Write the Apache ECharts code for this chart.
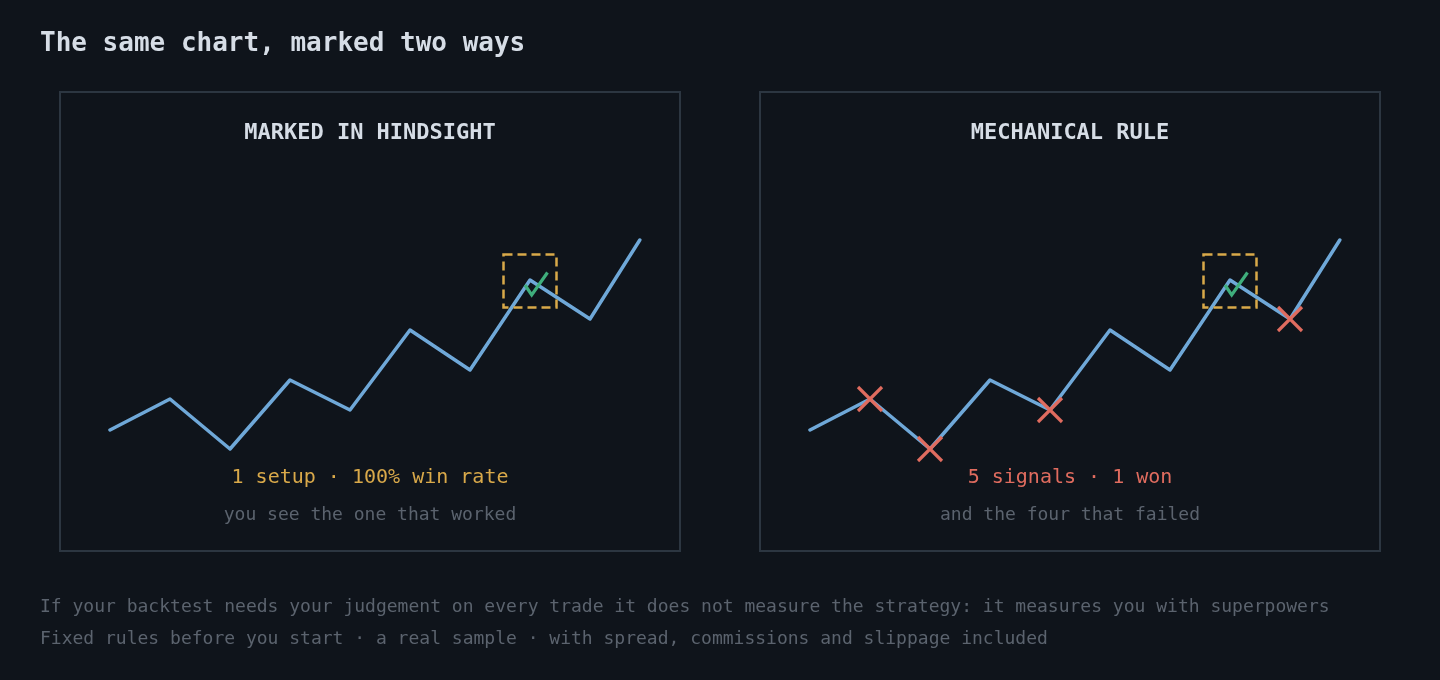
<!DOCTYPE html>
<html><head><meta charset="utf-8">
<script src="https://cdn.jsdelivr.net/npm/echarts@6/dist/echarts.min.js"></script>
<style>html,body{margin:0;padding:0;background:#0f141b;}#c{width:1440px;height:680px;}</style>
</head><body><div id="c"></div>
<script>
const steps = [0, 1, 2, 3, 4, 5, 6, 7, 8, 8.83];
const prices = [100, 106.2, 96.2, 110, 104, 120, 112, 130, 122.2, 138];
const hindsightWinIdx = [7];
const ruleWinIdx = [7];
const ruleFailIdx = [1, 2, 4, 8];
const titleText = 'The same chart, marked two ways';
const panelTitles = ['MARKED IN HINDSIGHT', 'MECHANICAL RULE'];
const panelStats = ['1 setup · 100% win rate', '5 signals · 1 won'];
const panelNotes = ['you see the one that worked', 'and the four that failed'];
const footLines = [
  'If your backtest needs your judgement on every trade it does not measure the strategy: it measures you with superpowers',
  'Fixed rules before you start · a real sample · with spread, commissions and slippage included'
];

const BG = '#0f141b', BORDER = '#2c3641', LINE = '#6fa8d8', GOLD = '#d9a94a', RED = '#e06c5f', GREEN = '#3fae7c';
const TXT = '#d6dde6', MUTED = '#5b636e';
const FONT = '"DejaVu Sans Mono", monospace';

function pts(idx){ return idx.map(i => [steps[i], prices[i]]); }
const lineData = steps.map((s, i) => [s, prices[i]]);

function renderX(params, api){
  const p = api.coord([api.value(0), api.value(1)]); const s = 12;
  return {type:'group', children:[
    {type:'line', shape:{x1:p[0]-s,y1:p[1]-s,x2:p[0]+s,y2:p[1]+s}, style:{stroke:RED,lineWidth:3.2}},
    {type:'line', shape:{x1:p[0]-s,y1:p[1]+s,x2:p[0]+s,y2:p[1]-s}, style:{stroke:RED,lineWidth:3.2}}
  ]};
}
function renderWin(params, api){
  const p = api.coord([api.value(0), api.value(1)]); const h = 26.5;
  return {type:'group', children:[
    {type:'rect', shape:{x:p[0]-h, y:p[1]-h+1, width:2*h, height:2*h},
     style:{fill:'none', stroke:GOLD, lineWidth:2.5, lineDash:[9,5]}},
    {type:'polyline', shape:{points:[[p[0]-5,p[1]+5],[p[0]+1.7,p[1]+15],[p[0]+17.5,p[1]-7.5]]},
     style:{fill:'none', stroke:GREEN, lineWidth:3.2}}
  ]};
}

const grids = [
  {left:110, right:790, top:180, bottom:200},
  {left:810, right:90, top:180, bottom:200}
];
const xAxes = grids.map((g,i)=>({type:'value', gridIndex:i, min:0, max:9, show:false}));
const yAxes = grids.map((g,i)=>({type:'value', gridIndex:i, min:90, max:150, show:false}));

const series = [];
[0,1].forEach(i=>{
  series.push({type:'line', xAxisIndex:i, yAxisIndex:i, data:lineData, symbol:'none',
    lineStyle:{color:LINE, width:3.5, cap:'round', join:'round'}, z:2, silent:true});
});
series.push({type:'custom', xAxisIndex:0, yAxisIndex:0, data:pts(hindsightWinIdx), renderItem:renderWin, z:3});
series.push({type:'custom', xAxisIndex:1, yAxisIndex:1, data:pts(ruleWinIdx), renderItem:renderWin, z:3});
series.push({type:'custom', xAxisIndex:1, yAxisIndex:1, data:pts(ruleFailIdx), renderItem:renderX, z:4});

const graphic = [
  {type:'text', x:40, y:44, style:{text:titleText, fill:TXT, font:'bold 26px '+FONT, textVerticalAlign:'middle'}},
];
[0,1].forEach(i=>{
  const x0 = 60 + i*700, cx = x0 + 310;
  graphic.push({type:'rect', shape:{x:x0, y:92, width:620, height:459}, style:{fill:'none', stroke:BORDER, lineWidth:2}, z:-1});
  graphic.push({type:'text', x:cx, y:133, style:{text:panelTitles[i], fill:TXT, font:'bold 22px '+FONT, textAlign:'center', textVerticalAlign:'middle'}});
  graphic.push({type:'text', x:cx, y:478, style:{text:panelStats[i], fill:i===0?GOLD:RED, font:'20px '+FONT, textAlign:'center', textVerticalAlign:'middle'}});
  graphic.push({type:'text', x:cx, y:515, style:{text:panelNotes[i], fill:MUTED, font:'18px '+FONT, textAlign:'center', textVerticalAlign:'middle'}});
});
footLines.forEach((t,k)=>{
  graphic.push({type:'text', x:40, y:607 + k*32, style:{text:t, fill:MUTED, font:'18px '+FONT, textVerticalAlign:'middle'}});
});

const chart = echarts.init(document.getElementById('c'), null, {renderer:'canvas'});
chart.setOption({backgroundColor:BG, animation:false, grid:grids, xAxis:xAxes, yAxis:yAxes, series:series, graphic:graphic});
</script></body></html>
